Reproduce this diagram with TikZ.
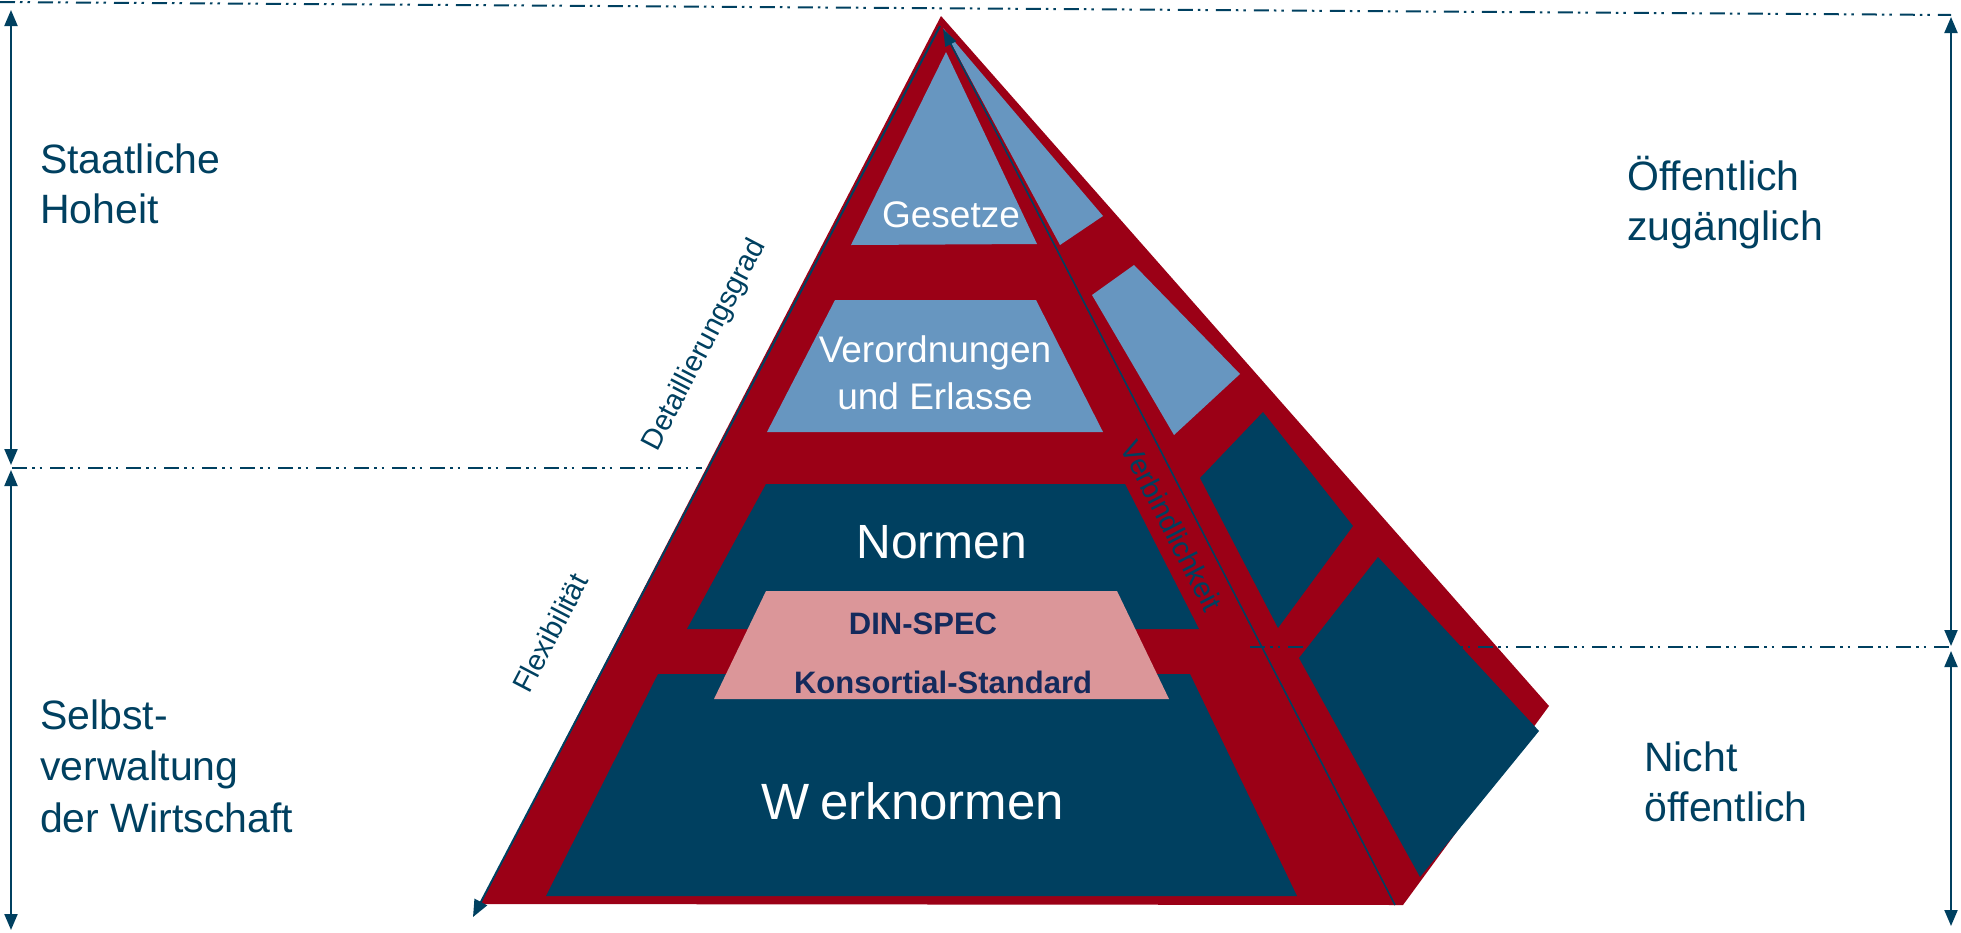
\documentclass[tikz,border=0pt]{standalone}
\usepackage{fontspec}
\setmainfont{Liberation Sans}
\usetikzlibrary{arrows.meta}
\definecolor{pyrred}{RGB}{155,0,22}
\definecolor{deepblue}{RGB}{0,64,96}
\definecolor{paleblue}{RGB}{103,150,192}
\definecolor{rose}{RGB}{219,150,153}
\definecolor{navy}{RGB}{20,42,92}
\begin{document}
\begin{tikzpicture}[x=1pt,y=-1pt]
\tikzset{
    sidetext/.style={anchor=base west, align=left, inner sep=0pt, text=deepblue, font=\fontsize{41}{50}\selectfont},
    layertext/.style={anchor=base, align=center, inner sep=0pt, text=white},
    axislabel/.style={inner sep=0pt, text=deepblue, font=\fontsize{29}{34}\selectfont},
    divider/.style={deepblue, line width=2pt, dash pattern=on 15pt off 5pt on 2.5pt off 5pt on 2.5pt off 8pt},
    span/.style={deepblue, line width=2pt, {Triangle[length=16pt,width=13pt]}-{Triangle[length=16pt,width=13pt]}},
}
\useasboundingbox (0,0) rectangle (1961,932);

\coordinate (apex) at (941,16);   % top of the pyramid
\coordinate (lb)   at (480,904);  % left bottom
\coordinate (rb)   at (1403,905); % right bottom
\coordinate (rc)   at (1549,706); % right corner of the side face

% The red body first.
\fill[pyrred] (apex) -- (rc) -- (rb) -- (lb) -- cycle;

% Layers of the front face.
\fill[paleblue] (946,52) -- (1037,244) -- (851,245) -- cycle;               % Gesetze
\fill[paleblue] (835,300) -- (1036,300) -- (1103,432) -- (767,432) -- cycle; % Verordnungen
\fill[deepblue] (766,484) -- (1125,484) -- (1199,629) -- (687,629) -- cycle; % Normen
\fill[deepblue] (658,674) -- (1190,674) -- (1297,896) -- (546,896) -- cycle; % Werknormen
\fill[rose]     (766,591) -- (1117,591) -- (1169,699) -- (714,699) -- cycle; % DIN-SPEC

% Panels of the side face.
\fill[paleblue] (943,28) -- (1103,216) -- (1060,245) -- cycle;
\fill[paleblue] (1134,265) -- (1240,374) -- (1174,435) -- (1092,295) -- cycle;
\fill[deepblue] (1263,412) -- (1353,526) -- (1278,628) -- (1200,478) -- cycle;
\fill[deepblue] (1378,557) -- (1539,731) -- (1420,877) -- (1299,658) -- cycle;

% Arrows along the edges.
\coordinate (flextop) at (940,26);
\coordinate (flexbot) at (473,917);
\coordinate (vbtop)   at (943,29);
\coordinate (vbbot)   at (1395,905);
\draw[deepblue, line width=2pt, -{Triangle[length=17pt,width=14pt]}] (flextop) -- (flexbot);
\draw[deepblue, line width=1.6pt, -{Triangle[length=17pt,width=12pt]}] (vbbot) -- (vbtop);

% Dash-dot dividers.
\coordinate (topl) at (0,2);
\coordinate (topr) at (1951,15);
\coordinate (midl) at (12,468);
\coordinate (midle) at (702,468);
\coordinate (midr) at (1250,647);
\coordinate (midre) at (1951,647);
\draw[divider] (topl) -- (topr);
\draw[divider] (midl) -- (midle);
\draw[divider] (midr) -- (midre);

% Spans on both sides.
\coordinate (lt) at (11,10);   \coordinate (lm1) at (11,465);
\coordinate (lm2) at (11,470); \coordinate (lbt) at (11,930);
\coordinate (rt) at (1951,17);  \coordinate (rm1) at (1951,646);
\coordinate (rm2) at (1951,651); \coordinate (rbt) at (1951,926);
\draw[span] (lt) -- (lm1);
\draw[span] (lm2) -- (lbt);
\draw[span] (rt) -- (rm1);
\draw[span] (rm2) -- (rbt);

% Texts of the layers (base is the last line).
\node[layertext, font=\fontsize{37}{47}\selectfont] (gesetze) at (951,227) {Gesetze};
\node[layertext, font=\fontsize{37}{47}\selectfont] (verord) at (935,409) {Verordnungen\\und Erlasse};
\node[layertext, font=\fontsize{48}{58}\selectfont] (normen) at (942,558) {Normen};
\node[layertext, font=\fontsize{51}{60}\selectfont] (werk) at (913,819) {W\hspace{0.2em}erknormen};
\node[layertext, text=navy, font=\fontsize{31}{37}\selectfont\bfseries] (dinspec) at (923,634) {DIN-SPEC};
\node[layertext, text=navy, font=\fontsize{31}{37}\selectfont\bfseries] (konsort) at (943,693) {Konsortial-Standard};

% Labels along the edges.
\node[axislabel, rotate=62.4] (detail) at (705,345) {Detaillierungsgrad};
\node[axislabel, rotate=62.4] (flex) at (550,633) {Flexibilität};
\node[axislabel, rotate=-62.7] (verb) at (1172,526) {Verbindlichkeit};

% Texts at the sides.
\node[sidetext] (staat) at (40,223) {Staatliche\\Hoheit};
\node[sidetext, font=\fontsize{41}{51.5}\selectfont] (selbst) at (40,832) {Selbst-\\verwaltung\\der Wirtschaft};
\node[sidetext] (oeff) at (1627,240) {Öffentlich\\zugänglich};
\node[sidetext] (nicht) at (1644,821) {Nicht\\öffentlich};
\end{tikzpicture}
\end{document}
